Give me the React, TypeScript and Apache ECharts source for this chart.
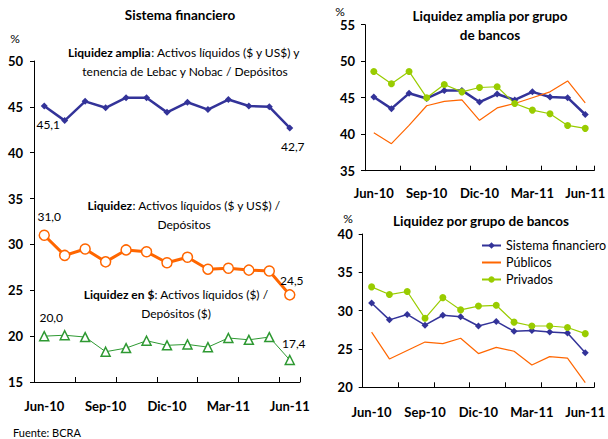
import React, { useEffect, useRef } from "react";
import * as echarts from "echarts";

const categories = ["Jun-10", "Jul-10", "Ago-10", "Sep-10", "Oct-10", "Nov-10", "Dic-10", "Ene-11", "Feb-11", "Mar-11", "Abr-11", "May-11", "Jun-11"];

// Left panel: Sistema financiero
const liquidezAmplia = [45.1, 43.5, 45.6, 44.9, 46.0, 46.0, 44.4, 45.5, 44.7, 45.8, 45.1, 45.0, 42.7];
const liquidez = [31.0, 28.8, 29.5, 28.1, 29.4, 29.2, 28.0, 28.6, 27.3, 27.4, 27.2, 27.1, 24.5];
const liquidezPesos = [20.0, 20.1, 19.9, 18.3, 18.7, 19.5, 19.0, 19.1, 18.8, 19.8, 19.6, 19.9, 17.4];

// Right top: Liquidez amplia por grupo de bancos
const ampliaPublicos = [40.2, 38.7, 41.2, 43.9, 44.5, 44.7, 41.9, 43.6, 44.2, 45.0, 45.8, 47.3, 44.3];
const ampliaPrivados = [48.6, 46.9, 48.6, 45.0, 46.8, 45.8, 46.4, 46.5, 44.2, 43.3, 42.8, 41.2, 40.8];

// Right bottom: Liquidez por grupo de bancos
const liqPublicos = [27.2, 23.7, 24.8, 25.9, 25.7, 26.4, 24.4, 25.2, 24.7, 22.9, 24.0, 23.8, 20.6];
const liqPrivados = [33.1, 32.1, 32.5, 29.0, 31.7, 30.1, 30.6, 30.7, 28.5, 28.0, 28.0, 27.8, 27.0];

const BLUE = "#333399";
const ORANGE = "#FF6600";
const DGREEN = "#2E9932";
const LGREEN = "#99CC00";
const FONT = "Lato";

const fmt = (v: number) => v.toFixed(1).replace(".", ",");

function withEndLabels(values: number[], pos0: string, posN: string, off0: number[], offN: number[]) {
  return values.map((v, i) => {
    if (i === 0 || i === values.length - 1) {
      return {
        value: v,
        label: {
          show: true,
          position: i === 0 ? pos0 : posN,
          offset: i === 0 ? off0 : offN,
          formatter: (p: any) => fmt(p.value),
          color: "#000",
          fontFamily: FONT,
          fontSize: 12,
        },
      };
    }
    return v;
  });
}

function xAxis(gridIndex: number, margin: number) {
  return {
    type: "category",
    gridIndex,
    data: categories,
    boundaryGap: true,
    axisLine: { show: true, lineStyle: { color: "#000", width: 1 } },
    axisTick: { show: true, inside: true, interval: 1, length: 5, lineStyle: { color: "#000" } },
    axisLabel: { interval: 2, margin, color: "#000", fontFamily: FONT, fontWeight: "bold", fontSize: 13 },
    splitLine: { show: false },
  };
}

function yAxis(gridIndex: number, min: number, max: number, margin: number) {
  return {
    type: "value",
    gridIndex,
    min,
    max,
    interval: 5,
    axisLine: { show: true, lineStyle: { color: "#000", width: 1 } },
    axisTick: { show: true, inside: false, length: 4, lineStyle: { color: "#000" } },
    axisLabel: { margin, color: "#000", fontFamily: FONT, fontWeight: "bold", fontSize: 13 },
    splitLine: { show: false },
  };
}

function txt(x: number, y: number, text: string, opts: any = {}) {
  return {
    type: "text",
    x,
    y,
    style: {
      text,
      fill: "#000",
      fontFamily: FONT,
      fontSize: 12,
      textAlign: "center",
      textVerticalAlign: "middle",
      rich: { b: { fontWeight: "bold", fontFamily: FONT, fontSize: 12, fill: "#000" } },
      ...opts,
    },
  };
}

export default function App() {
  const ref = useRef<HTMLDivElement>(null);
  useEffect(() => {
    if (!ref.current) return;
    const chart = echarts.init(ref.current, undefined, { renderer: "svg" });
    chart.setOption({
      animation: false,
      backgroundColor: "#fff",
      grid: [
        { left: 34, top: 61, width: 266, height: 321 },
        { left: 365, top: 24.7, width: 235, height: 146 },
        { left: 362.7, top: 234, width: 238.7, height: 153.3 },
      ],
      xAxis: [xAxis(0, 17), xAxis(1, 16), xAxis(2, 18)],
      yAxis: [yAxis(0, 15, 50, 11), yAxis(1, 35, 55, 10), yAxis(2, 20, 40, 10)],
      legend: {
        show: true,
        orient: "vertical",
        left: 476,
        top: 234,
        itemWidth: 19,
        itemHeight: 8,
        itemGap: 4,
        textStyle: { color: "#000", fontFamily: FONT, fontSize: 12.5 },
        data: [
          { name: "Sistema financiero" },
          { name: "Públicos", itemStyle: { opacity: 0 } },
          { name: "Privados" },
        ],
      },
      series: [
        {
          name: "Liquidez amplia",
          type: "line",
          xAxisIndex: 0,
          yAxisIndex: 0,
          data: withEndLabels(liquidezAmplia, "bottom", "bottom", [4, 4], [3, 4]),
          lineStyle: { color: BLUE, width: 2.5 },
          itemStyle: { color: BLUE },
          symbol: "diamond",
          symbolSize: 7,
        },
        {
          name: "Liquidez",
          type: "line",
          xAxisIndex: 0,
          yAxisIndex: 0,
          data: withEndLabels(liquidez, "top", "top", [5, -2], [2, 2]),
          lineStyle: { color: ORANGE, width: 3 },
          itemStyle: { color: "#fff", borderColor: ORANGE, borderWidth: 1.5 },
          symbol: "circle",
          symbolSize: 10,
        },
        {
          name: "Liquidez en $",
          type: "line",
          xAxisIndex: 0,
          yAxisIndex: 0,
          data: withEndLabels(liquidezPesos, "top", "top", [7, -2], [4, 0]),
          lineStyle: { color: DGREEN, width: 1 },
          itemStyle: { color: "#fff", borderColor: DGREEN, borderWidth: 1.5 },
          symbol: "triangle",
          symbolSize: 9,
        },
        {
          name: "Sistema financiero",
          type: "line",
          xAxisIndex: 1,
          yAxisIndex: 1,
          data: liquidezAmplia,
          lineStyle: { color: BLUE, width: 2.5 },
          itemStyle: { color: BLUE },
          symbol: "diamond",
          symbolSize: 7,
          z: 3,
        },
        {
          name: "Públicos",
          type: "line",
          xAxisIndex: 1,
          yAxisIndex: 1,
          data: ampliaPublicos,
          lineStyle: { color: ORANGE, width: 1.2 },
          itemStyle: { color: ORANGE },
          symbol: "none",
        },
        {
          name: "Privados",
          type: "line",
          xAxisIndex: 1,
          yAxisIndex: 1,
          data: ampliaPrivados,
          lineStyle: { color: LGREEN, width: 1.2 },
          itemStyle: { color: LGREEN },
          symbol: "circle",
          symbolSize: 7,
        },
        {
          name: "Sistema financiero",
          type: "line",
          xAxisIndex: 2,
          yAxisIndex: 2,
          data: liquidez,
          lineStyle: { color: BLUE, width: 1.5 },
          itemStyle: { color: BLUE },
          symbol: "diamond",
          symbolSize: 7,
          z: 3,
        },
        {
          name: "Públicos",
          type: "line",
          xAxisIndex: 2,
          yAxisIndex: 2,
          data: liqPublicos,
          lineStyle: { color: ORANGE, width: 1.2 },
          itemStyle: { color: ORANGE },
          symbol: "none",
        },
        {
          name: "Privados",
          type: "line",
          xAxisIndex: 2,
          yAxisIndex: 2,
          data: liqPrivados,
          lineStyle: { color: LGREEN, width: 1.2 },
          itemStyle: { color: LGREEN },
          symbol: "circle",
          symbolSize: 7,
        },
      ],
      graphic: [
        txt(180, 15, "Sistema financiero", { fontWeight: "bold", fontSize: 13.5 }),
        txt(15, 38, "%", { fontSize: 12 }),
        txt(184, 52, "{b|Liquidez amplia}: Activos líquidos ($ y US$) y"),
        txt(185, 71, "tenencia de Lebac y Nobac / Depósitos"),
        txt(184, 205, "{b|Liquidez}: Activos líquidos ($ y US$) /"),
        txt(184, 224, "Depósitos"),
        txt(176, 294, "{b|Liquidez en $}: Activos líquidos ($) /"),
        txt(176, 313, "Depósitos ($)"),
        txt(490, 16, "Liquidez amplia por grupo", { fontWeight: "bold", fontSize: 13.5 }),
        txt(490, 35, "de bancos", { fontWeight: "bold", fontSize: 13.5 }),
        txt(340, 11, "%", { fontSize: 12 }),
        txt(481, 221, "Liquidez por grupo de bancos", { fontWeight: "bold", fontSize: 13.5 }),
        txt(348, 218, "%", { fontSize: 12 }),
        txt(13, 432, "Fuente: BCRA", { textAlign: "left", fontSize: 11 }),
      ],
    });
    return () => chart.dispose();
  }, []);
  return <div ref={ref} style={{ width: 608, height: 439, position: "absolute", left: 0, top: 0 }} />;
}
